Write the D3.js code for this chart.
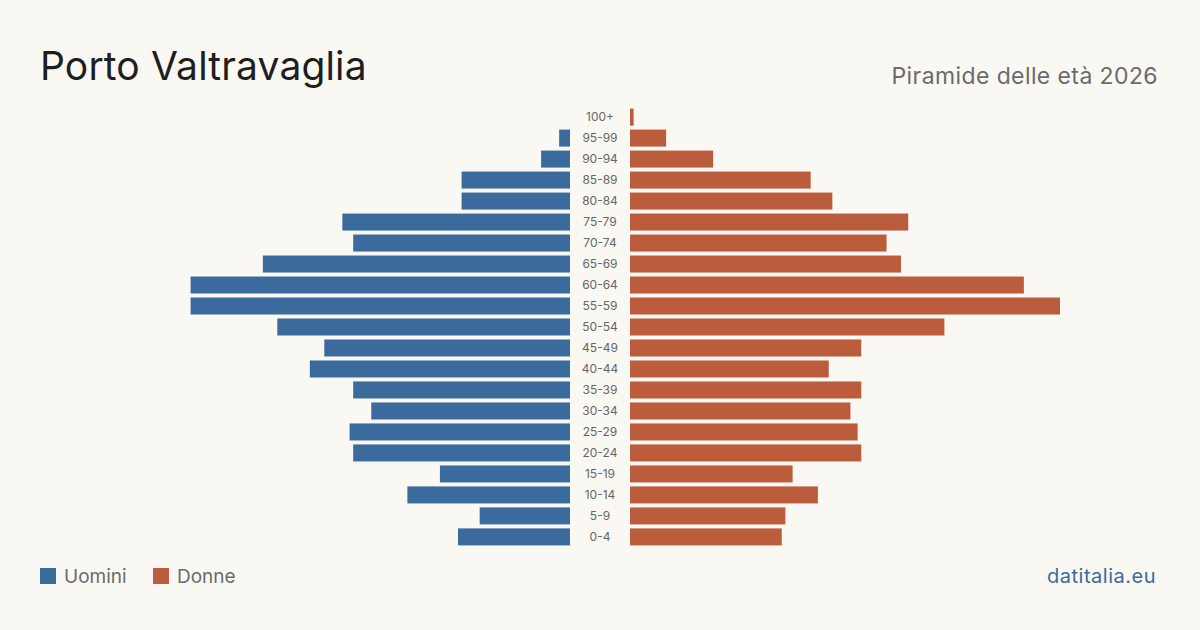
<!DOCTYPE html>
<html lang="it">
<head>
<meta charset="UTF-8"/>
<title>Porto Valtravaglia - Piramide delle età 2026</title>
<script src="https://d3js.org/d3.v7.min.js"></script>
<style>
	body { margin: 0; background: #faf8f3; }
	svg { display: block; font-family: Inter, "Noto Sans", sans-serif; }
</style>
</head>
<body>
<script>
	var w = 1200;
	var h = 630;

	// classi d'età, dall'alto verso il basso
	var ageGroups = ["100+", "95-99", "90-94", "85-89", "80-84", "75-79", "70-74", "65-69",
		"60-64", "55-59", "50-54", "45-49", "40-44", "35-39", "30-34", "25-29",
		"20-24", "15-19", "10-14", "5-9", "0-4"];
	var men   = [0, 3, 8, 30, 30, 63, 60, 85, 105, 105, 81, 68, 72, 60, 55, 61, 60, 36, 45, 25, 31];
	var women = [1, 10, 23, 50, 56, 77, 71, 75, 109, 119, 87, 64, 55, 64, 61, 63, 64, 45, 52, 43, 42];

	var blue = "#3b6b9c";
	var red = "#bb5c3c";
	var centre = 600;
	var gap = 30;

	var maxVal = d3.max(men.concat(women));

	var xScale = d3.scaleLinear()
		.domain([0, maxVal])
		.range([0, 430]);

	var yScale = d3.scaleBand()
		.domain(ageGroups)
		.range([106.5, 547.5])
		.paddingInner(0.19)
		.paddingOuter(0.1);

	var svg = d3.select("body")
		.append("svg")
		.attr("width", w)
		.attr("height", h);

	svg.append("rect")
		.attr("width", w)
		.attr("height", h)
		.attr("fill", "#faf8f3");

	// titolo
	svg.append("text")
		.attr("x", 40)
		.attr("y", 80)
		.attr("font-size", 39)
		.attr("letter-spacing", 0.15)
		.attr("fill", "#1e1e1e")
		.text("Porto Valtravaglia");

	svg.append("text")
		.attr("x", 1158)
		.attr("y", 84)
		.attr("text-anchor", "end")
		.attr("font-size", 23)
		.attr("letter-spacing", 0.4)
		.attr("fill", "#6b6b6b")
		.text("Piramide delle età 2026");

	// uomini
	svg.selectAll("rect.men")
		.data(men)
		.enter()
		.append("rect")
		.attr("class", "men")
		.attr("x", function(d){ return centre - gap - xScale(d); })
		.attr("y", function(d, i){ return yScale(ageGroups[i]); })
		.attr("width", function(d){ return xScale(d); })
		.attr("height", yScale.bandwidth())
		.attr("fill", blue);

	// donne
	svg.selectAll("rect.women")
		.data(women)
		.enter()
		.append("rect")
		.attr("class", "women")
		.attr("x", centre + gap)
		.attr("y", function(d, i){ return yScale(ageGroups[i]); })
		.attr("width", function(d){ return xScale(d); })
		.attr("height", yScale.bandwidth())
		.attr("fill", red);

	// etichette età
	svg.selectAll("text.age")
		.data(ageGroups)
		.enter()
		.append("text")
		.attr("class", "age")
		.attr("x", centre)
		.attr("y", function(d){ return yScale(d) + yScale.bandwidth() / 2; })
		.attr("dy", "0.35em")
		.attr("text-anchor", "middle")
		.attr("font-size", 12)
		.attr("fill", "#666")
		.text(function(d){ return d; });

	// legenda
	var legend = [["Uomini", blue, 40], ["Donne", red, 153]];
	legend.forEach(function(l){
		svg.append("rect")
			.attr("x", l[2])
			.attr("y", 568)
			.attr("width", 16)
			.attr("height", 16)
			.attr("fill", l[1]);
		svg.append("text")
			.attr("x", l[2] + 24)
			.attr("y", 583)
			.attr("font-size", 19)
			.attr("fill", "#6b6b6b")
			.text(l[0]);
	});

	svg.append("text")
		.attr("x", 1156)
		.attr("y", 583)
		.attr("text-anchor", "end")
		.attr("font-size", 20)
		.attr("letter-spacing", 0.5)
		.attr("fill", blue)
		.text("datitalia.eu");
</script>
</body>
</html>
